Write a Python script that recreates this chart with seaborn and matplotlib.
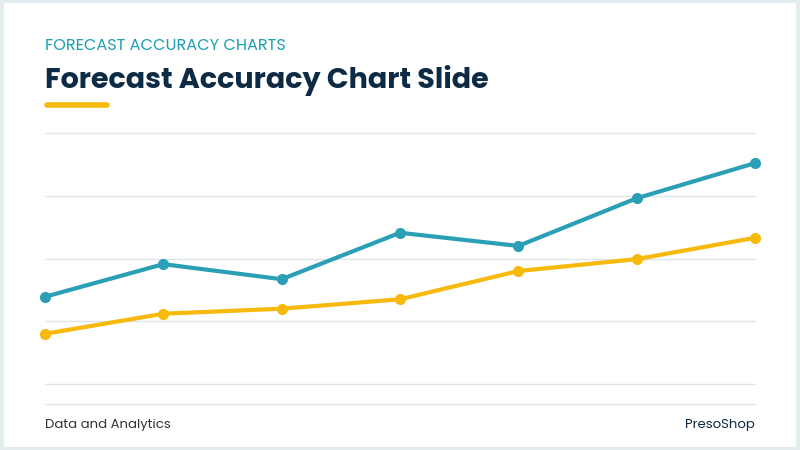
import matplotlib
matplotlib.use("Agg")
import matplotlib.pyplot as plt
import seaborn as sns
import pandas as pd
from matplotlib.patches import Rectangle
from matplotlib.lines import Line2D

periods = [1, 2, 3, 4, 5, 6, 7]
actual = [13.9, 19.1, 16.7, 24.1, 22.0, 29.6, 35.2]
forecast = [8.0, 11.2, 12.0, 13.5, 18.0, 19.9, 23.3]

sns.set_theme(style="white")
plt.rcParams['font.family'] = ['Poppins', 'Lato', 'DejaVu Sans']

fig = plt.figure(figsize=(8, 4.5), dpi=100)
fig.patch.set_facecolor("white")
fig.add_artist(Rectangle((0.002, 0.003), 0.996, 0.994, transform=fig.transFigure,
                         fill=False, edgecolor="#e3ecef", linewidth=3))

ax = fig.add_axes([45/800, 1-384/450, 710/800, 251/450])
df = pd.DataFrame({"p": periods * 2, "v": actual + forecast,
                   "s": ["A"] * 7 + ["F"] * 7})
sns.lineplot(data=df, x="p", y="v", hue="s", palette={"A": "#2b9fb6", "F": "#f7b90c"},
             marker="o", markersize=8, markeredgewidth=0, linewidth=3, ax=ax,
             legend=False, clip_on=False)
ax.set_xlim(1, 7)
ax.set_ylim(0, 40)
ax.set_yticks([0, 10, 20, 30, 40])
ax.grid(axis="y", color="#dde6ea", linewidth=1)
for gl in ax.get_ygridlines():
    gl.set_clip_on(False)
ax.set_axisbelow(True)
ax.set_xticks([])
ax.tick_params(left=False, labelleft=False)
ax.set_xlabel("")
ax.set_ylabel("")
for s in ax.spines.values():
    s.set_visible(False)

fig.add_artist(Line2D([45/800, 755/800], [1-404/450]*2, color="#dde6ea", lw=1))
fig.text(45/800, 1-46/450, "FORECAST ACCURACY CHARTS", color="#1f9fb3", fontsize=11.6, va="center")
fig.text(45/800, 1-80/450, "Forecast Accuracy Chart Slide", color="#0d2b45", fontsize=20.6,
         fontweight="bold", va="center")
fig.add_artist(Line2D([47/800, 107/800], [1-105/450]*2, color="#f7b90c", lw=4,
                      solid_capstyle="round"))
fig.text(45/800, 1-425/450, "Data and Analytics", color="#333333", fontsize=9.5, va="center")
fig.text(755/800, 1-425/450, "PresoShop", color="#0d2b45", fontsize=9.5, va="center", ha="right")

fig.savefig("out.png", dpi=100)
